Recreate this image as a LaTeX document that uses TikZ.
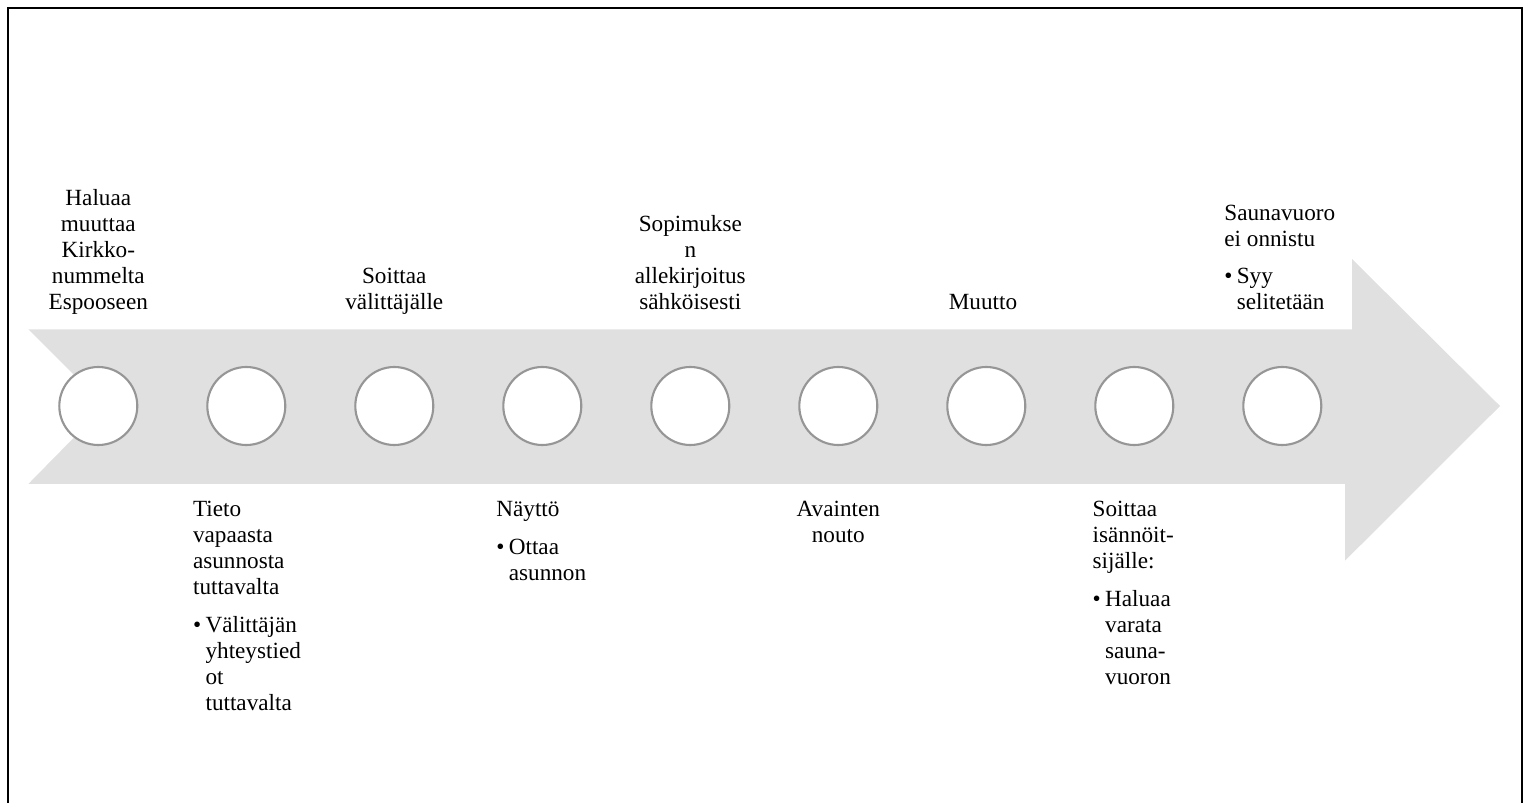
\documentclass[tikz,border=0pt]{standalone}
\usepackage{fontspec}
\setmainfont{Liberation Serif}
\definecolor{arrowgray}{HTML}{E0E0E0}
\definecolor{ringgray}{HTML}{969696}
\newcommand{\bulitem}{\makebox[0.25cm][l]{\textbullet}}
\newcommand{\hangind}{\hspace*{0.25cm}}
\tikzset{
	stepring/.style={circle, draw=ringgray, line width=1.2pt, fill=white, minimum size=1.56cm, inner sep=0pt},
	eventtext/.style={inner sep=0pt, font=\fontsize{13.2}{14.8}\selectfont}
}

\begin{document}
\begin{tikzpicture}
			\clip (0,0) rectangle (30.6,-16.06);

			% Draw frame (bottom edge falls outside)
			\draw[line width=1.3pt] (0.154,-16.5) -- (0.154,-0.166) -- (30.44,-0.166) -- (30.44,-16.5);

			% Draw the arrow
			\fill[arrowgray] (0.566,-6.586) -- (27.04,-6.586) -- (27.04,-5.18) -- (30,-8.12)
				-- (26.9,-11.214) -- (26.9,-9.68) -- (0.566,-9.68) -- (2.1,-8.12) -- cycle;

			% Draw the steps
			\node[stepring] (c1) at (1.966,-8.12) {};
			\node[stepring] (c2) at (4.926,-8.12) {};
			\node[stepring] (c3) at (7.886,-8.12) {};
			\node[stepring] (c4) at (10.846,-8.12) {};
			\node[stepring] (c5) at (13.806,-8.12) {};
			\node[stepring] (c6) at (16.766,-8.12) {};
			\node[stepring] (c7) at (19.726,-8.12) {};
			\node[stepring] (c8) at (22.686,-8.12) {};
			\node[stepring] (c9) at (25.646,-8.12) {};

			% Texts above the arrow
			\node[eventtext, anchor=base] (t1) at (1.966,-6.2) {\begin{tabular}[b]{@{}c@{}}Haluaa\\muuttaa\\Kirkko-\\nummelta\\Espooseen\end{tabular}};
			\node[eventtext, anchor=base] (t3) at (7.886,-6.2) {\begin{tabular}[b]{@{}c@{}}Soittaa\\välittäjälle\end{tabular}};
			\node[eventtext, anchor=base] (t5) at (13.806,-6.2) {\begin{tabular}[b]{@{}c@{}}Sopimukse\\n\\allekirjoitus\\sähköisesti\end{tabular}};
			\node[eventtext, anchor=base] (t7) at (19.66,-6.2) {\begin{tabular}[b]{@{}c@{}}Muutto\end{tabular}};
			\node[eventtext, anchor=base west] (t9) at (24.48,-6.2) {\begin{tabular}[b]{@{}l@{}}Saunavuoro\\ei onnistu\\[6.8pt]\bulitem Syy\\\hangind selitetään\end{tabular}};

			% Texts below the arrow
			\node[eventtext, anchor=base west] (b2) at (3.854,-10.33) {\begin{tabular}[t]{@{}l@{}}Tieto\\vapaasta\\asunnosta\\tuttavalta\\[6.8pt]\bulitem Välittäjän\\\hangind yhteystied\\\hangind ot\\\hangind tuttavalta\end{tabular}};
			\node[eventtext, anchor=base west] (b4) at (9.92,-10.33) {\begin{tabular}[t]{@{}l@{}}Näyttö\\[6.8pt]\bulitem Ottaa\\\hangind asunnon\end{tabular}};
			\node[eventtext, anchor=base] (b6) at (16.766,-10.33) {\begin{tabular}[t]{@{}c@{}}Avainten\\nouto\end{tabular}};
			\node[eventtext, anchor=base west] (b8) at (21.846,-10.33) {\begin{tabular}[t]{@{}l@{}}Soittaa\\isännöit-\\sijälle:\\[6.8pt]\bulitem Haluaa\\\hangind varata\\\hangind sauna-\\\hangind vuoron\end{tabular}};
		\end{tikzpicture}
\end{document}
